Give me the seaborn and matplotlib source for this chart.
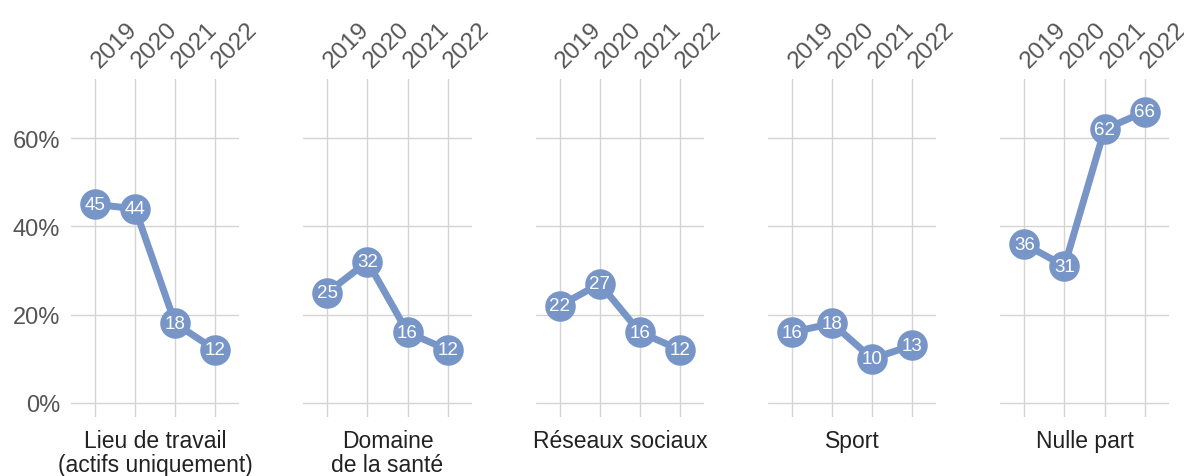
import matplotlib
matplotlib.use("Agg")
import matplotlib.pyplot as plt
import pandas as pd
import seaborn as sns

# Données
annees = [2019, 2020, 2021, 2022]
categories = ["Lieu de travail\n(actifs uniquement)", "Domaine\nde la santé",
              "Réseaux sociaux", "Sport", "Nulle part"]
lieu_travail = [45, 44, 18, 12]
domaine_sante = [25, 32, 16, 12]
reseaux_sociaux = [22, 27, 16, 12]
sport = [16, 18, 10, 13]
nulle_part = [36, 31, 62, 66]
valeurs = [lieu_travail, domaine_sante, reseaux_sociaux, sport, nulle_part]
yticks = [0, 20, 40, 60]

sns.set_style("white")
plt.rcParams['font.family'] = ['Liberation Sans', 'DejaVu Sans']

couleur = "#7895c7"
gris_grille = "#d4d4d4"

fig, axs = plt.subplots(1, 5, figsize=(11.84, 4.77), dpi=100, sharey=True)
fig.subplots_adjust(left=0.06, right=0.987, top=0.832, bottom=0.124, wspace=0.381)

for i, ax in enumerate(axs):
    df = pd.DataFrame({"annee": annees, "valeur": valeurs[i]})
    sns.lineplot(data=df, x="annee", y="valeur", ax=ax, color=couleur,
                 linewidth=5, marker="o", markersize=22,
                 markeredgewidth=0, zorder=3)
    for x, v in zip(annees, valeurs[i]):
        ax.text(x, v, str(v), color="white", fontsize=13.5,
                ha="center", va="center", zorder=4)

    ax.set_xlim(2018.4, 2022.6)
    ax.set_ylim(-3.2, 73.4)
    ax.set_xticks(annees)
    ax.set_yticks(yticks)
    ax.set_yticklabels([f"{t}%" for t in yticks])
    ax.xaxis.tick_top()
    ax.set_xticklabels([str(a) for a in annees], rotation=45, ha="left",
                       va="center", rotation_mode="anchor")
    ax.tick_params(axis="x", length=0, pad=11, labelsize=17.5, labelcolor="#555555")
    ax.tick_params(axis="y", length=0, pad=8, labelsize=17, labelcolor="#555555")
    ax.grid(True, color=gris_grille, linewidth=1)
    ax.set_axisbelow(True)
    for s in ax.spines.values():
        s.set_visible(False)
    ax.set_xlabel("")
    ax.set_ylabel("")
    ax.text(0.5, -0.035, categories[i], transform=ax.transAxes, ha="center",
            va="top", fontsize=16.5, color="#222222", linespacing=1.05)
    if i > 0:
        ax.tick_params(axis="y", labelleft=False)

fig.savefig("out.png", dpi=100, facecolor="white")
